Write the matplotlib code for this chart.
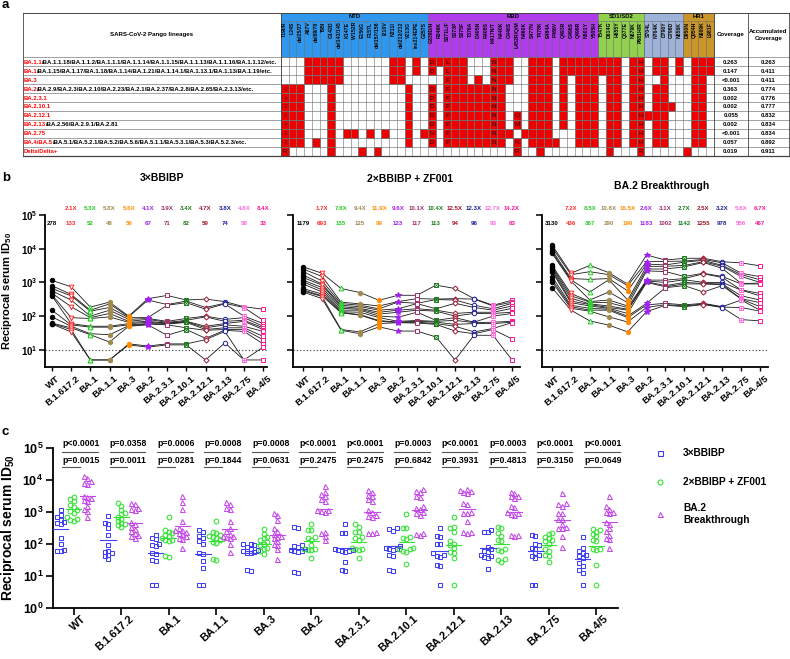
import numpy as np
import matplotlib
matplotlib.use('Agg')
import matplotlib.pyplot as plt
from matplotlib.patches import Rectangle
import matplotlib.transforms as mtransforms

plt.rcParams['font.family'] = ['Liberation Sans', 'DejaVu Sans']
plt.rcParams['mathtext.fontset'] = 'custom'
plt.rcParams['mathtext.rm'] = 'Liberation Sans'
plt.rcParams['mathtext.bf'] = 'Liberation Sans:bold'
plt.rcParams['mathtext.it'] = 'Liberation Sans:italic'

# ------------------------------------------------------------------ data
mutations = ['T19I/R', 'L24S', 'del25/27', 'A67V', 'del69/70', 'T95I', 'G142D', 'del143/145',
             'K147E', 'W152R', 'E156G', 'F157L', 'del157/158', 'I210V', 'N211I', 'del212/212',
             'V213G', 'ins214EPE', 'G257S',
             'G339D/H', 'R346K', 'S371L/F', 'S373P', 'S375F', 'T376A', 'D405N', 'R408S',
             'K417N/T', 'N440K', 'G446S', 'L452R/Q/M', 'N460K', 'S477N', 'T478K', 'E484A',
             'F486V', 'Q493R', 'G496S', 'Q498R', 'N501Y', 'Y505H',
             'T547K', 'D614G', 'H655Y', 'Q677E', 'N679K', 'P681H/R',
             'S704L', 'N764K', 'D796Y', 'G798D', 'N856K',
             'D950N', 'Q954H', 'N969K', 'L981F']
domain_names = ['NTD', 'RBD', 'SD1/SD2', '', 'HR1']
domain_sizes = [19, 22, 6, 5, 4]
domain_colors = ['#2F97EE', '#B03CEC', '#92D050', '#9DB3D9', '#C8962A']

lineage_red = ['BA.1.1', 'BA.1', 'BA.3', 'BA.2', 'BA.2.3.1', 'BA.2.10.1', 'BA.2.12.1',
               'BA.2.13', 'BA.2.75', 'BA.4/BA.5', 'Delta/Delta+']
lineage_rest = ['/BA.1.1.18/BA.1.1.2/BA.1.1.1/BA.1.1.14/BA.1.1.15/BA.1.1.13/BA.1.1.16/BA.1.1.12/etc.',
                '/BA.1.15/BA.1.17/BA.1.18/BA.1.14/BA.1.21/BA.1.14.1/BA.1.13.1/BA.1.13/BA.1.19/etc.',
                '',
                '/BA.2.9/BA.2.3/BA.2.10/BA.2.23/BA.2.1/BA.2.37/BA.2.8/BA.2.65/BA.2.3.13/etc.',
                '', '', '', '/BA.2.56/BA.2.9.1/BA.2.81', '',
                '/BA.5.1/BA.5.2.1/BA.5.2/BA.5.6/BA.5.1.1/BA.5.3.1/BA.5.3/BA.5.2.3/etc.', '']
coverage = ['0.263', '0.147', '<0.001', '0.363', '0.002', '0.002', '0.055', '0.002', '<0.001', '0.057', '0.019']
acc_coverage = ['0.263', '0.411', '0.411', '0.774', '0.776', '0.777', '0.832', '0.834', '0.834', '0.892', '0.911']

# '.' = absent, 'x' = present, letter = present with residue shown
mut_rows = [
    "...xxxxx......xx.x." + "DxLxx...Nxx..xxx.xxxxx" + "xxx.xH" + ".xx.x" + ".xxx",
    "...xxxxx......xx.x." + "D.Lxx...Nxx..xxx.xxxxx" + "xxx.xH" + ".xx.x" + ".xxx",
    "...xxxxx......xx..." + "..Fxx.x.Nxx..xxx.x.xxx" + ".xx.xH" + "..x.." + ".xx.",
    "Ixx...x.........x.." + "D.FxxxxxNx...xxx.x.xxx" + ".xx.xH" + ".xx.." + ".xx.",
    "Ixx...x.........x.." + "D.FxxxxxNx...xxx.x.xxx" + ".xx.xH" + ".xx.." + ".xx.",
    "Ixx...x.........x.." + "D.FxxxxxNx...xxx.x.xxx" + ".xx.xH" + ".xxx." + ".xx.",
    "Ixx...x.........x.." + "D.FxxxxxNx.Q.xxx.x.xxx" + ".xx.xH" + "xxx.." + ".xx.",
    "Ixx...x.........x.." + "D.FxxxxxNx.M.xxx.x.xxx" + ".xx.xH" + ".xx.." + ".xx.",
    "Ixx...x.xx.x.x..x.x" + "H.FxxxxxNxx.xxxx...xxx" + ".xx.xH" + ".xx.." + ".xx.",
    "Ixx.x.x.........x.." + "D.FxxxxxNx.R.xxxx..xxx" + ".xx.xH" + ".xx.." + ".xx.",
    "R.....x...x.x......" + "...........R..x......." + ".x...R" + "....." + "x...",
]

variants = ['WT', 'B.1.617.2', 'BA.1', 'BA.1.1', 'BA.3', 'BA.2', 'BA.2.3.1', 'BA.2.10.1',
            'BA.2.12.1', 'BA.2.13', 'BA.2.75', 'BA.4/5']
var_colors = ['#000000', '#FF2A2A', '#22CC22', '#A08A50', '#FF8C00', '#A020F0', '#A0306A',
              '#1E7A1E', '#A01830', '#1E1E9A', '#FF66DD', '#FF1493']

group_names = ['3×BBIBP', '2×BBIBP + ZF001', 'BA.2 Breakthrough']

# individual ID50 values, rows = variants, columns = participants
bbibp3 = [
    [1150, 800, 660, 560, 480, 430, 400, 150, 95, 62, 60, 58],
    [740, 440, 400, 300, 190, 90, 60, 55, 50, 45, 40, 34],
    [185, 150, 140, 100, 90, 85, 50, 47, 30, 28, 5, 5],
    [260, 230, 180, 150, 120, 95, 50, 47, 28, 17, 5, 5],
    [100, 95, 90, 80, 70, 65, 60, 55, 52, 50, 15, 14],
    [330, 300, 90, 85, 80, 70, 65, 60, 58, 55, 13, 12],
    [410, 220, 210, 70, 65, 62, 60, 58, 55, 27, 15, 14],
    [300, 280, 250, 85, 75, 70, 68, 65, 45, 40, 15, 14],
    [320, 180, 160, 100, 95, 50, 45, 40, 38, 22, 20, 5],
    [270, 240, 230, 80, 70, 60, 55, 45, 40, 38, 35, 16],
    [190, 180, 100, 90, 75, 70, 50, 45, 40, 35, 5, 5],
    [160, 75, 60, 50, 45, 40, 35, 25, 20, 15, 12, 5],
]
zf001 = [
    [2900, 2500, 2100, 1650, 1400, 1170, 1050, 900, 660, 600, 560, 520],
    [1870, 1500, 1100, 900, 830, 700, 600, 520, 450, 400, 380, 330],
    [660, 260, 235, 210, 190, 170, 150, 135, 130, 125, 40, 38],
    [500, 230, 210, 190, 170, 160, 150, 130, 110, 107, 34, 30],
    [295, 200, 165, 150, 130, 115, 100, 90, 74, 70, 60, 48],
    [415, 270, 260, 165, 150, 130, 93, 70, 66, 65, 64, 36],
    [415, 330, 240, 235, 165, 150, 130, 74, 70, 66, 62, 36],
    [830, 320, 310, 165, 150, 140, 75, 70, 66, 60, 57, 24],
    [660, 330, 300, 240, 120, 100, 90, 75, 57, 50, 36, 5],
    [330, 320, 210, 180, 130, 120, 66, 64, 60, 34, 30, 27],
    [210, 200, 165, 150, 130, 120, 100, 66, 60, 43, 40, 27],
    [295, 260, 240, 200, 170, 130, 120, 70, 66, 64, 21, 5],
]
ba2_bt = [
    [12900, 11000, 9100, 8000, 7300, 3200, 2900, 2600, 2340, 2100, 1480, 1200, 1040, 700],
    [1870, 1700, 1300, 1200, 1100, 470, 400, 340, 280, 250, 210, 190, 170, 150],
    [3200, 2080, 1230, 520, 300, 270, 260, 230, 220, 200, 170, 150, 140, 72],
    [1950, 1700, 1300, 1200, 520, 300, 250, 200, 180, 170, 160, 150, 95, 54],
    [890, 800, 560, 300, 250, 200, 180, 160, 150, 120, 100, 90, 67, 34],
    [6500, 4100, 3500, 3000, 2500, 2200, 1170, 1100, 1050, 1000, 240, 215, 180, 135],
    [4600, 4200, 3300, 3000, 2500, 2100, 1170, 1000, 800, 740, 700, 240, 220, 210],
    [5200, 4300, 4000, 3200, 2900, 1500, 1300, 1200, 1000, 900, 800, 215, 200, 190],
    [5200, 4800, 4500, 4100, 3900, 1870, 1800, 1000, 930, 900, 520, 240, 230, 220],
    [4100, 3800, 3200, 3000, 2600, 1500, 1400, 1000, 900, 850, 800, 190, 185, 180],
    [3800, 1870, 1700, 1500, 930, 900, 600, 590, 400, 330, 320, 300, 180, 79],
    [3100, 1480, 1200, 1000, 950, 900, 470, 400, 300, 250, 190, 150, 140, 72],
]

gmt_bbibp3 = [278, 133, 52, 48, 50, 67, 71, 82, 59, 74, 58, 33]
gmt_zf001 = [1179, 693, 155, 125, 99, 123, 117, 113, 94, 96, 93, 83]
gmt_ba2_bt = [3130, 436, 367, 290, 190, 1183, 1002, 1142, 1255, 978, 556, 467]
fold_bbibp3 = ['2.1X', '5.3X', '5.8X', '5.6X', '4.1X', '3.9X', '3.4X', '4.7X', '3.8X', '4.8X', '8.4X']
fold_zf001 = ['1.7X', '7.6X', '9.4X', '11.9X', '9.6X', '10.1X', '10.4X', '12.5X', '12.3X', '12.7X', '14.2X']
fold_ba2_bt = ['7.2X', '8.5X', '10.8X', '16.5X', '2.6X', '3.1X', '2.7X', '2.5X', '3.2X', '5.6X', '6.7X']

p_bbibp3_vs_bt = ['p<0.0001', 'p=0.0358', 'p=0.0006', 'p=0.0008', 'p=0.0008', 'p<0.0001',
                  'p<0.0001', 'p=0.0003', 'p<0.0001', 'p=0.0003', 'p<0.0001', 'p<0.0001']
p_bbibp3_vs_zf = ['p=0.0015', 'p=0.0011', 'p=0.0281', 'p=0.1844', 'p=0.0631', 'p=0.2475',
                  'p=0.2475', 'p=0.6842', 'p=0.3931', 'p=0.4813', 'p=0.3150', 'p=0.0649']

# ------------------------------------------------------------------ figure
W, H = 790, 659
fig = plt.figure(figsize=(W / 100, H / 100), dpi=100)
tax = fig.add_axes([0, 0, 1, 1])
tax.set_xlim(0, W)
tax.set_ylim(H, 0)
tax.axis('off')

# ---------------- panel a : table
TX0, TX1, CW = 22.5, 281.0, 7.73
NC = len(mutations)
TXM = TX1 + NC * CW
TXC = 747.5
TXE = 789.0
TY0, TYD, TYH, RH = 12.5, 20.5, 57.3, 8.98
NR = len(mut_rows)
TYB = TYH + NR * RH
RED = '#EE0000'
GRID = '#6E6E6E'

c0 = 0
for name, size, col in zip(domain_names, domain_sizes, domain_colors):
    tax.add_patch(Rectangle((TX1 + c0 * CW, TY0), size * CW, TYH - TY0, facecolor=col,
                            edgecolor=GRID, lw=0.4))
    tax.plot([TX1 + c0 * CW, TX1 + (c0 + size) * CW], [TYD, TYD], color=GRID, lw=0.4)
    tax.text(TX1 + (c0 + size / 2) * CW, (TY0 + TYD) / 2 + 0.3, name, ha='center', va='center',
             fontsize=4.3, fontweight='bold')
    c0 += size
for c, m in enumerate(mutations):
    xl = TX1 + c * CW
    tax.plot([xl, xl], [TYD, TYB], color=GRID, lw=0.4)
    tax.text(xl + CW / 2, TYD + 1.2, m, rotation=90, ha='center', va='top', fontsize=3.7,
             fontweight='bold')

for r, row in enumerate(mut_rows):
    y = TYH + r * RH
    for c, ch in enumerate(row):
        if ch != '.':
            tax.add_patch(Rectangle((TX1 + c * CW, y), CW, RH, facecolor=RED, edgecolor=GRID, lw=0.4))
            if ch != 'x':
                tax.text(TX1 + (c + 0.5) * CW, y + RH / 2 + 0.3, ch, ha='center', va='center',
                         fontsize=4.6, color='#1a0000')
    tax.plot([TX0, TXE], [y, y], color=GRID, lw=0.45)
    t = tax.text(TX0 + 1.0, y + RH / 2 + 0.3, lineage_red[r], ha='left', va='center',
                 fontsize=4.3, fontweight='bold', color='#FF0000')
    if lineage_rest[r]:
        tax.annotate(lineage_rest[r], xy=(1, 0), xycoords=t, ha='left', va='bottom',
                     fontsize=4.3, fontweight='bold', color='black')
    tax.text((TXM + TXC) / 2, y + RH / 2 + 0.3, coverage[r], ha='center', va='center',
             fontsize=4.3, fontweight='bold')
    tax.text((TXC + TXE) / 2, y + RH / 2 + 0.3, acc_coverage[r], ha='center', va='center',
             fontsize=4.3, fontweight='bold')
tax.text((TX0 + TX1) / 2, (TY0 + TYH) / 2, 'SARS-CoV-2 Pango lineages', ha='center', va='center',
         fontsize=4.4, fontweight='bold')
tax.text((TXM + TXC) / 2, (TY0 + TYH) / 2, 'Coverage', ha='center', va='center',
         fontsize=4.4, fontweight='bold')
tax.text((TXC + TXE) / 2, (TY0 + TYH) / 2, 'Accumulated\nCoverage', ha='center', va='center',
         fontsize=4.4, fontweight='bold', linespacing=1.6)
for xv in [TX0, TX1, TXM, TXC, TXE]:
    tax.plot([xv, xv], [TY0, TYB], color='#444444', lw=0.6)
tax.plot([TX0, TXE], [TY0, TY0], color='#444444', lw=0.7)
tax.plot([TX0, TXE], [TYB, TYB], color='#444444', lw=0.9)

for lab, (xx, yy) in zip(['a', 'b', 'c'], [(2, 5), (2, 178), (2, 432)]):
    tax.text(xx, yy, lab, fontsize=9.5, fontweight='bold', ha='left', va='center')
for name, xx, yy in zip(group_names, [162, 410, 662], [178, 179, 186]):
    tax.text(xx, yy, name, fontsize=7.5, fontweight='bold', ha='center', va='center')

# ---------------- panel b
marker_styles = [
    dict(marker='o', fill=True, ms=3.2),
    dict(marker='v', fill=False, ms=3.4),
    dict(marker='^', fill=False, ms=3.4),
    dict(marker='h', fill=True, ms=3.4),
    dict(marker='h', fill=True, ms=3.4),
    dict(marker='*', fill=True, ms=4.0),
    dict(marker='s', fill=False, ms=3.0),
    dict(marker='s', fill=False, ms=3.0),
    dict(marker='D', fill=False, ms=2.6),
    dict(marker='o', fill=False, ms=3.2),
    dict(marker='s', fill=False, ms=3.0),
    dict(marker='s', fill=False, ms=3.0),
]
overlay = {7: 'x', 10: '+'}


def ylab_str():
    return r'Reciprocal serum ID$_\mathbf{50}$'


def draw_b(rect, xlim, data, gmt, fold, show_labels):
    ax = fig.add_axes(rect)
    arr = np.array(data, dtype=float)
    nv, n = arr.shape
    x = np.arange(nv)
    for i in range(n):
        ax.plot(x, arr[:, i], color='#1a1a1a', lw=0.6, zorder=2)
    for j in range(nv):
        st = marker_styles[j]
        col = var_colors[j]
        ax.plot(np.full(n, j), arr[j], ls='none', marker=st['marker'], ms=st['ms'],
                mec=col, mfc=(col if st['fill'] else 'white'), mew=0.7, zorder=3)
        if j in overlay:
            ax.plot(np.full(n, j), arr[j], ls='none', marker=overlay[j], ms=2.4,
                    mec=col, mew=0.5, zorder=4)
    ax.set_yscale('log')
    ax.set_ylim(10 ** 0.49, 1e5)
    ax.set_xlim(*xlim)
    ax.axhline(10, color='#333333', ls=(0, (1, 2)), lw=0.8, zorder=1)
    for s in ['top', 'right']:
        ax.spines[s].set_visible(False)
    for s in ['left', 'bottom']:
        ax.spines[s].set_linewidth(1.3)
    ax.set_yticks([1e1, 1e2, 1e3, 1e4, 1e5])
    ax.yaxis.set_minor_locator(matplotlib.ticker.NullLocator())
    if show_labels:
        ax.set_yticklabels([r'$\mathbf{10^{%d}}$' % k for k in range(1, 6)], fontsize=7)
        ax.set_ylabel(ylab_str(), fontsize=8, fontweight='bold', labelpad=5)
    else:
        ax.set_yticklabels([])
    ax.tick_params(axis='y', length=4, width=1.1, pad=1.5)
    ax.set_xticks(x)
    ax.set_xticklabels([])
    ax.tick_params(axis='x', length=3, width=1.0)
    trans = ax.get_xaxis_transform()
    off = mtransforms.ScaledTranslation(4 / 100, -7 / 100, fig.dpi_scale_trans)
    for j, lab in enumerate(variants):
        ax.text(j, 0, lab, transform=trans + off, rotation=40, ha='right', va='top',
                rotation_mode='anchor', fontsize=6.8, fontweight='bold', clip_on=False)
    for j in range(nv):
        ax.text(j, 0.947, str(gmt[j]), transform=trans, ha='center', va='center', fontsize=4.4,
                fontweight='bold', color=var_colors[j])
    for j in range(1, nv):
        ax.text(j, 1.046, fold[j - 1], transform=trans, ha='center', va='center', fontsize=4.4,
                fontweight='bold', color=var_colors[j], clip_on=False)
    return ax


yb0 = 1 - 367 / H
hb = 152 / H
draw_b([45 / W, yb0, 222 / W, hb], (-0.36, 11.2), bbibp3, gmt_bbibp3, fold_bbibp3, True)
draw_b([293 / W, yb0, 227 / W, hb], (-0.53, 11.42), zf001, gmt_zf001, fold_zf001, False)
draw_b([542 / W, yb0, 226 / W, hb], (-0.53, 11.42), ba2_bt, gmt_ba2_bt, fold_ba2_bt, False)

# ---------------- panel c
grp_colors = ['#4040F0', '#33E033', '#C548E8']
grp_markers = ['s', 'o', '^']
grp_offsets = [-0.28, 0.0, 0.28]
grp_data = [bbibp3, zf001, ba2_bt]
grp_gmt = [gmt_bbibp3, gmt_zf001, gmt_ba2_bt]


def swarm(vals, step=0.075, tol=0.12):
    logs = np.log10(np.asarray(vals, dtype=float))
    order = np.argsort(logs)
    placed = []
    offs = np.zeros(len(vals))
    for idx in order:
        for c in [0, -1, 1, -2, 2, -3, 3, -4, 4]:
            if all(not (abs(logs[idx] - pl) < tol and pc == c) for pl, pc in placed):
                break
        offs[idx] = c * step
        placed.append((logs[idx], c))
    return offs


axc = fig.add_axes([53 / W, 1 - 607.7 / H, (618 - 53) / W, 160 / H])
axc.set_yscale('log')
axc.set_ylim(1, 1e5)
axc.set_xlim(-0.44, 11.46)
for g in range(3):
    arr = grp_data[g]
    for j in range(len(variants)):
        vals = np.array(arr[j], dtype=float)
        xs = j + grp_offsets[g] + swarm(vals)
        axc.plot(xs, vals, ls='none', marker=grp_markers[g], ms=3.4 if g != 2 else 3.6,
                 mec=grp_colors[g], mfc='none', mew=0.75, zorder=3, clip_on=False)
        xc = j + grp_offsets[g]
        axc.plot([xc - 0.16, xc + 0.16], [grp_gmt[g][j]] * 2, color=grp_colors[g], lw=0.8, zorder=4)
for s in ['top', 'right']:
    axc.spines[s].set_visible(False)
for s in ['left', 'bottom']:
    axc.spines[s].set_linewidth(1.3)
axc.set_yticks([10.0 ** k for k in range(6)])
axc.yaxis.set_minor_locator(matplotlib.ticker.NullLocator())
axc.set_yticklabels([r'$\mathbf{10^{%d}}$' % k for k in range(6)], fontsize=9)
axc.tick_params(axis='y', length=5, width=1.2, pad=2)
axc.set_xticks(np.arange(len(variants)))
axc.set_xticklabels([])
axc.tick_params(axis='x', length=5, width=1.2)
axc.set_ylabel(ylab_str(), fontsize=10, fontweight='bold', labelpad=4)
transc = axc.get_xaxis_transform()
offc = mtransforms.ScaledTranslation(7 / 100, -6 / 100, fig.dpi_scale_trans)
for j, lab in enumerate(variants):
    axc.text(j, 0, lab, transform=transc + offc, rotation=42, ha='right', va='top',
             rotation_mode='anchor', fontsize=7.8, fontweight='bold', clip_on=False)
for j in range(len(variants)):
    axc.text(j - 0.25, 1.027, p_bbibp3_vs_bt[j], transform=transc, ha='left', va='center',
             fontsize=6.3, fontweight='bold', clip_on=False)
    axc.plot([j - 0.25, j + 0.5], [0.975, 0.975], transform=transc, color='#555555', lw=0.8,
             clip_on=False)
    axc.text(j - 0.25, 0.923, p_bbibp3_vs_zf[j], transform=transc, ha='left', va='center',
             fontsize=6.3, fontweight='bold', clip_on=False)
    axc.plot([j - 0.25, j + 0.12], [0.881, 0.881], transform=transc, color='#555555', lw=0.8,
             clip_on=False)

leg_y = [453, 482, 514]
leg_labels = ['3×BBIBP', '2×BBIBP + ZF001', 'BA.2\nBreakthrough']
for g in range(3):
    tax.plot([660], [leg_y[g]], ls='none', marker=grp_markers[g], ms=3.6, mec=grp_colors[g],
             mfc='none', mew=0.8)
    tax.text(683, leg_y[g], leg_labels[g], ha='left', va='center', fontsize=7.3,
             fontweight='bold', linespacing=1.35)

fig.savefig('out.png', dpi=100)
